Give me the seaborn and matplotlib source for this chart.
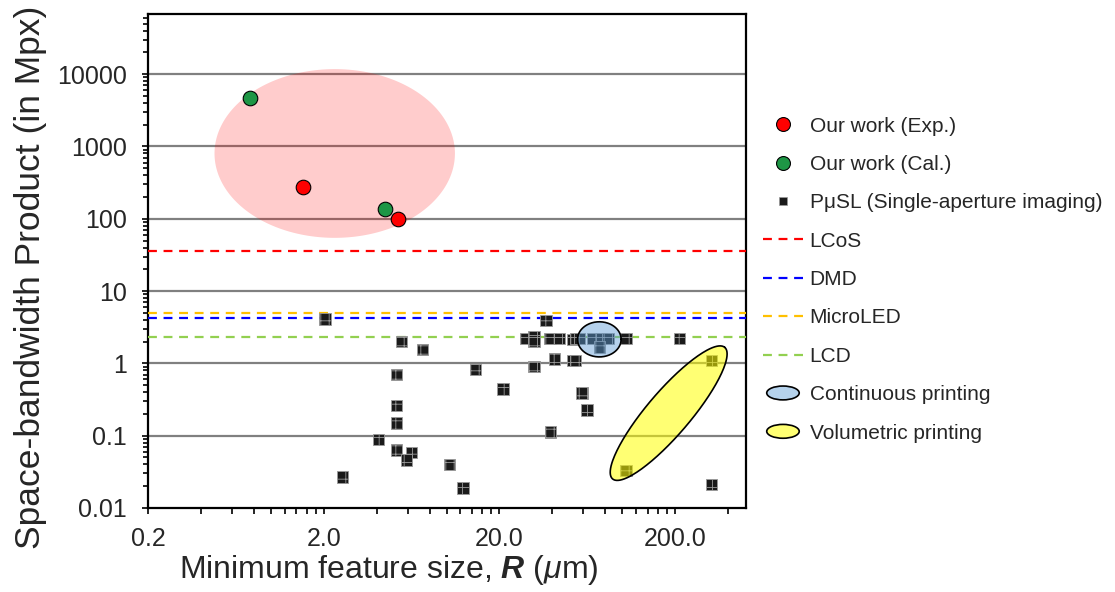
import numpy as np
import matplotlib
matplotlib.use("Agg")
import matplotlib.pyplot as plt
import matplotlib.ticker as mticker
from matplotlib.lines import Line2D
from matplotlib.patches import Ellipse, Patch
from matplotlib.legend_handler import HandlerPatch
import seaborn as sns

# data
exp_R = [1.53, 5.26]
exp_SBP = [278, 100]
cal_R = [0.76, 4.48]
cal_SBP = [4640, 138]

psl_R = [2.03, 5.56, 7.3, 5.2, 5.2, 5.2, 4.1, 5.2, 6.3, 5.9, 10.4, 2.55, 12.4,
         14.6, 21.0, 36.7, 28.1, 31.4, 31.4, 38.8, 43.8, 52.0, 54.0, 57.0,
         68.0, 76.0, 83.0, 105.0, 212.0, 74.0, 41.0, 52.0, 54.0, 31.4, 59.0,
         63.0, 39.0, 321.0, 105.0, 321.0]
psl_SBP = [4.1, 2.0, 1.55, 0.70, 0.26, 0.15, 0.089, 0.063, 0.059, 0.046, 0.040,
           0.027, 0.019, 0.82, 0.44, 3.95, 2.2, 2.35, 2.05, 2.2, 2.2, 2.15, 2.2,
           2.2, 2.2, 2.2, 2.2, 2.2, 2.2, 1.68, 1.15, 1.10, 1.10, 0.91, 0.39,
           0.228, 0.112, 1.10, 0.033, 0.021]

device_names = ["LCoS", "DMD", "MicroLED", "LCD"]
device_SBP = [36, 4.2, 5.0, 2.3]
device_colors = ["#FF0000", "#0000FF", "#FFC000", "#92D050"]

sns.set_style("ticks")
plt.rcParams['font.family'] = ['Liberation Sans', 'DejaVu Sans']
plt.rcParams['mathtext.fontset'] = 'custom'
plt.rcParams['mathtext.rm'] = 'Liberation Sans'
plt.rcParams['mathtext.it'] = 'Liberation Sans:italic'
plt.rcParams['mathtext.bf'] = 'Liberation Sans:bold'
plt.rcParams['mathtext.bfit'] = 'Liberation Sans:italic:bold'
plt.rcParams['hatch.linewidth'] = 0.6

fig = plt.figure(figsize=(11.15, 5.92), dpi=100)
ax = fig.add_axes([0.1327, 0.1419, 0.5363, 0.8345])
ax.set_xscale('log')
ax.set_yscale('log')
ax.set_xlim(0.2, 505)
ax.set_ylim(0.01, 6.8e4)

# gridlines
for v in [0.1, 1, 10, 100, 1000, 10000]:
    ax.axhline(v, color='#808080', lw=1.6, zorder=1)


def log_ellipse(cx, cy, ax_dx, ax_dy, bx_dx, bx_dy, n=200):
    # ellipse in log-decade space, given centre and two half-axis vectors
    t = np.linspace(0, 2 * np.pi, n)
    lx = np.log10(cx) + ax_dx * np.cos(t) + bx_dx * np.sin(t)
    ly = np.log10(cy) + ax_dy * np.cos(t) + bx_dy * np.sin(t)
    return 10 ** lx, 10 ** ly


# pink region around our work
ex, ey = log_ellipse(2.31, 800, 0.684, 0, 0, 1.167)
ax.fill(ex, ey, color='#FF0000', alpha=0.2, lw=0, zorder=2)

# device lines
for name, v, c in zip(device_names, device_SBP, device_colors):
    ax.axhline(v, color=c, lw=1.6, ls=(0, (4, 3)), zorder=3)

sns.scatterplot(x=psl_R, y=psl_SBP, ax=ax, marker='s', s=68, color='#1a1a1a',
                edgecolor='#9a9a9a', linewidth=0.6, hatch='++', zorder=4,
                legend=False)

# continuous / volumetric printing regions
bx, by = log_ellipse(74, 2.15, 0.124, 0, 0, 0.243)
ax.fill(bx, by, facecolor='#5B9BD5', alpha=0.45, edgecolor='none', zorder=5)
ax.plot(bx, by, color='black', lw=1.2, zorder=5)
yx, yy = log_ellipse(183.5, 0.205, 0.319, 0.910, -0.094, 0.193)
ax.fill(yx, yy, facecolor='#FFFF00', alpha=0.55, edgecolor='none', zorder=5)
ax.plot(yx, yy, color='black', lw=1.2, zorder=5)

sns.scatterplot(x=exp_R, y=exp_SBP, ax=ax, marker='o', s=110, color='#FF0000',
                edgecolor='black', linewidth=0.8, zorder=6, legend=False)
sns.scatterplot(x=cal_R, y=cal_SBP, ax=ax, marker='o', s=110, color='#1E9645',
                edgecolor='black', linewidth=0.8, zorder=6, legend=False)

# axes styling
for sp in ax.spines.values():
    sp.set_linewidth(1.6)
    sp.set_color('black')
    sp.set_visible(True)

ax.xaxis.set_major_locator(mticker.FixedLocator([0.2, 2, 20, 200]))
ax.xaxis.set_major_formatter(mticker.FixedFormatter(["0.2", "2.0", "20.0", "200.0"]))
xminor = [0.2 * k * 10 ** n for n in range(4) for k in range(2, 10)]
ax.xaxis.set_minor_locator(mticker.FixedLocator(xminor))
ax.xaxis.set_minor_formatter(mticker.NullFormatter())

yticks = [0.01, 0.1, 1, 10, 100, 1000, 10000]
ax.yaxis.set_major_locator(mticker.FixedLocator(yticks))
ax.yaxis.set_major_formatter(mticker.FixedFormatter(["0.01", "0.1", "1", "10", "100", "1000", "10000"]))
ax.yaxis.set_minor_locator(mticker.LogLocator(base=10, subs=np.arange(2, 10), numticks=20))
ax.yaxis.set_minor_formatter(mticker.NullFormatter())

ax.tick_params(which='both', direction='out', color='black', width=1.2)
ax.tick_params(axis='y', which='major', length=4, pad=11, labelsize=18)
ax.tick_params(axis='y', which='minor', length=3.5)
ax.tick_params(axis='x', which='major', length=4.5, pad=9, labelsize=18)
ax.tick_params(axis='x', which='minor', length=4)

ax.set_ylabel("Space-bandwidth Product (in Mpx)", fontsize=25.5)
ax.yaxis.set_label_coords(-0.169, 0.466)
ax.set_xlabel(r"Minimum feature size, $\mathbfit{R}$ ($\mu$m)", fontsize=23)
ax.xaxis.set_label_coords(0.403, -0.091)


class HandlerEllipse(HandlerPatch):
    def create_artists(self, legend, orig_handle, xdescent, ydescent, width,
                       height, fontsize, trans):
        center = 0.5 * width - xdescent, 0.5 * height - ydescent
        p = Ellipse(xy=center, width=width * 0.8, height=height * 0.95)
        self.update_prop(p, orig_handle, legend)
        p.set_transform(trans)
        return [p]


handles = [
    Line2D([], [], ls='none', marker='o', ms=10, mfc='#FF0000', mec='black', mew=0.8),
    Line2D([], [], ls='none', marker='o', ms=10, mfc='#1E9645', mec='black', mew=0.8),
    Line2D([], [], ls='none', marker='s', ms=5.5, mfc='#1a1a1a', mec='#9a9a9a', mew=0.5),
]
for c in device_colors:
    handles.append(Line2D([], [], color=c, lw=1.6, ls=(0, (4, 3))))
cont = Patch(facecolor='#B5D2EC', edgecolor='black', lw=1.2)
vol = Patch(facecolor='#FFFF73', edgecolor='black', lw=1.2)
handles += [cont, vol]
labels = ["Our work (Exp.)", "Our work (Cal.)", "PμSL (Single-aperture imaging)"] + \
    device_names + ["Continuous printing", "Volumetric printing"]

fig.legend(handles, labels, loc='upper left', bbox_to_anchor=(0.684, 0.803),
           frameon=False, fontsize=15, labelspacing=0.93, handlelength=1.95,
           handletextpad=0.3, borderpad=0, borderaxespad=0,
           handler_map={Patch: HandlerEllipse()})

fig.savefig("out.png", dpi=100)
